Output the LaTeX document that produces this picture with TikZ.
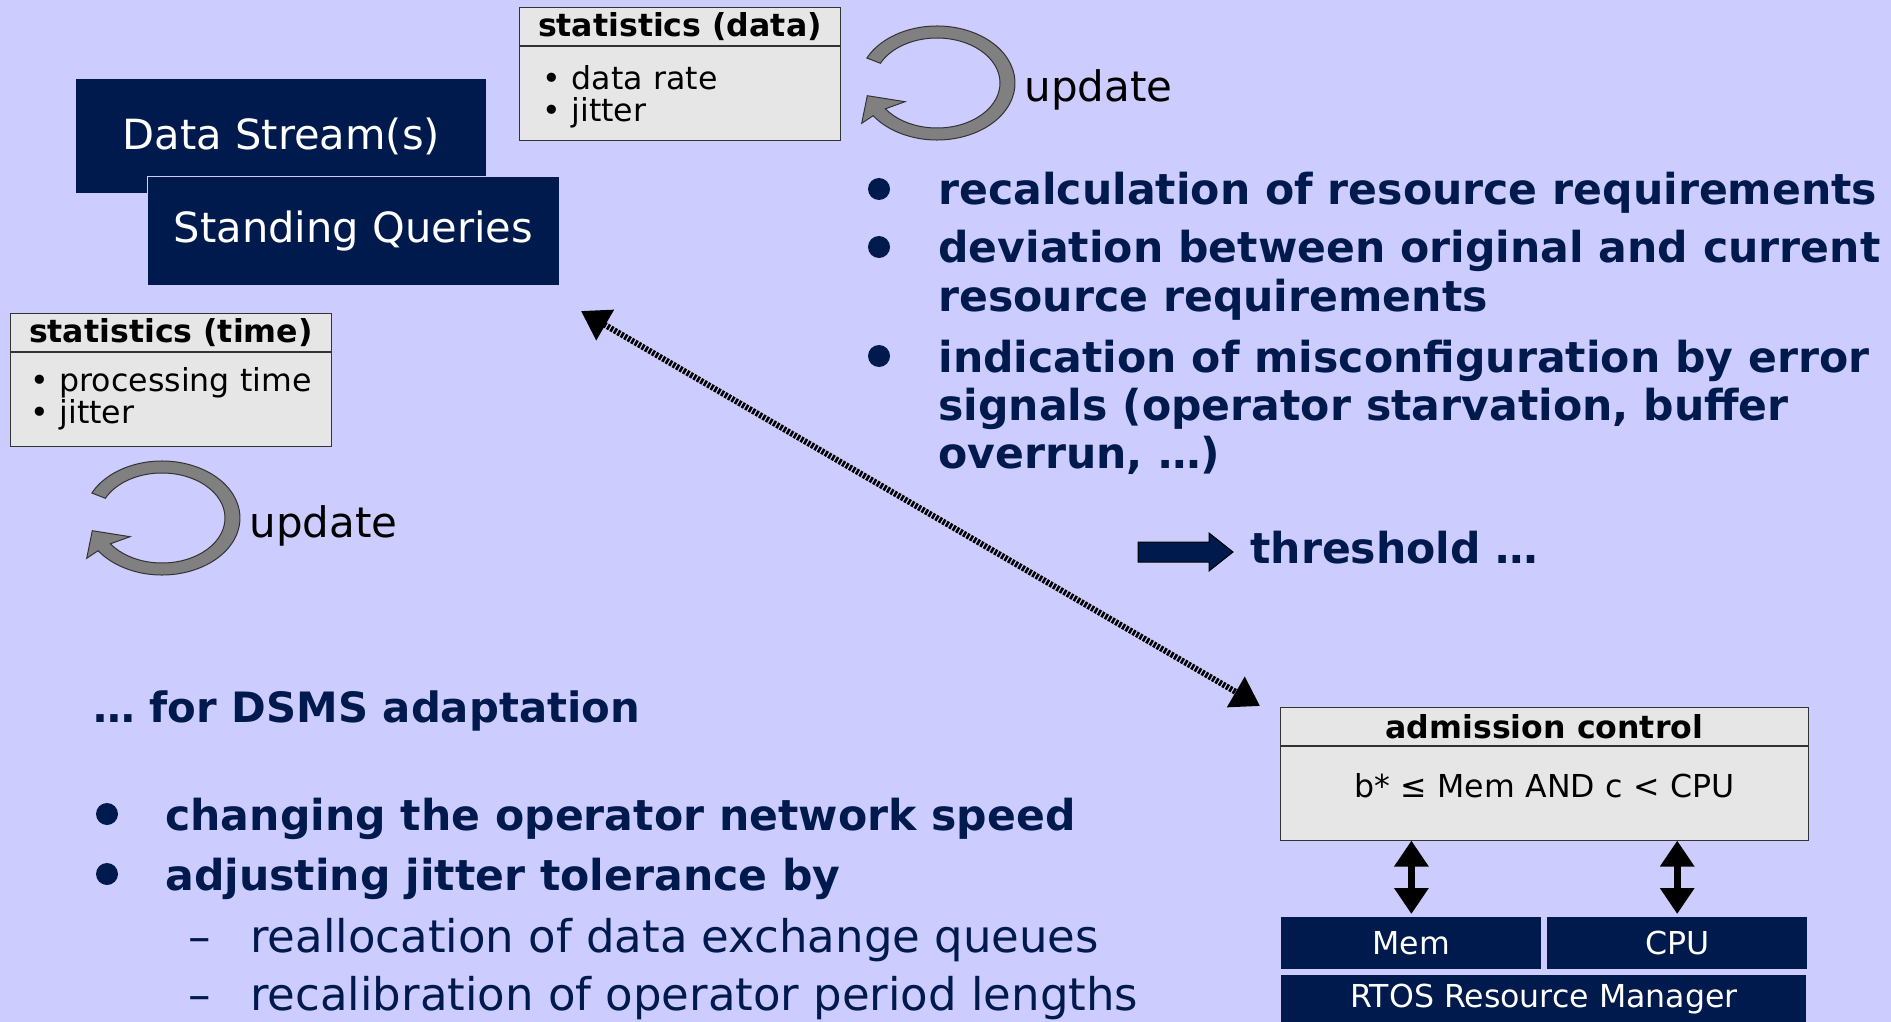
\documentclass[tikz,border=0pt]{standalone}
\usepackage{fontspec}
\setmainfont{DejaVu Sans}
\usetikzlibrary{arrows.meta, positioning}

\definecolor{slidebg}{HTML}{CCCCFF}
\definecolor{navy}{HTML}{001A4D}
\definecolor{panel}{HTML}{E6E6E6}
\definecolor{loopfill}{HTML}{808080}

\newcommand{\bigfont}{\fontsize{21.3}{24.2}\selectfont}
\newcommand{\subfont}{\fontsize{22.5}{24}\selectfont}
\newcommand{\smallfont}{\fontsize{15.8}{16}\selectfont}
\newcommand{\toplines}[1]{\begin{tabular}[t]{@{}l@{}}#1\end{tabular}}

\begin{document}
\begin{tikzpicture}[
    x=0.5pt, y=-0.5pt,
    navybox/.style={fill=navy, text=white, inner sep=0pt, font=\fontsize{20.8}{24}\selectfont},
    statshead/.style={draw=black!80, fill=panel, inner sep=0pt, minimum height=19pt, font=\smallfont\bfseries},
    statsbody/.style={draw=black!80, fill=panel, inner ysep=0pt, inner xsep=10pt, minimum height=47pt, text width=140.5pt, text height=16pt, align=left, font=\smallfont},
    resbox/.style={fill=navy, text=white, inner sep=0pt, minimum width=130pt, minimum height=26pt, font=\smallfont},
    listitem/.style={anchor=base west, inner sep=0pt, text=navy, font=\bigfont\bfseries},
    listsub/.style={anchor=base west, inner sep=0pt, text=navy, font=\subfont},
    bulletdot/.style={circle, fill=navy, inner sep=0pt, minimum size=11pt},
    dblarrow/.style={{Triangle[width=16.5pt,length=13pt]}-{Triangle[width=16.5pt,length=13pt]}, line width=3.5pt},
    dotarrow/.style={{Triangle[width=17pt,length=14pt]}-{Triangle[width=17pt,length=14pt]}, line width=3pt, dash pattern=on 1.3pt off 0.7pt},
    ring/.style={draw=black!80, fill=loopfill, line width=0.5pt}
]
    % slide background
    \fill[slidebg] (0,0) rectangle (1891,1022);
    \useasboundingbox (0,0) rectangle (1891,1022);

    % streams and queries
    \node[navybox, minimum width=205pt, minimum height=57pt, anchor=north west] (stream) at (76,79) {Data Stream(s)};
    \node[navybox, draw=slidebg, line width=0.5pt, minimum width=206pt, minimum height=54.5pt, anchor=north west] (queries) at (147,176) {Standing Queries};

    % statistics panels
    \node[statshead, minimum width=160.5pt, anchor=north west] (sdhead) at (519,7) {statistics (data)};
    \node[statsbody, inner xsep=11.5pt, text width=137.5pt, below=0pt of sdhead] (sdbody) {\mbox{• data rate}\\\mbox{• jitter}};
    \node[statshead, minimum width=160.5pt, anchor=north west] (sthead) at (10,313) {statistics (time)};
    \node[statsbody, text height=12pt, below=0pt of sthead] (stbody) {\mbox{• processing time}\\\mbox{• jitter}};

    % update loops
    \foreach \cx/\cy/\nm in {162/518/updtime, 937/83/upddata} {
        \draw[ring] ({\cx+78*cos(206)},{\cy+57*sin(206)}) arc[start angle=206, end angle=505, x radius=78, y radius=57]
            -- ({\cx-75.3},{\cy+40.3}) -- ({\cx-69.7},{\cy+12.7}) -- ({\cx-32},{\cy+18.7})
            -- ({\cx+63*cos(505)},{\cy+45*sin(505)}) arc[start angle=505, end angle=206, x radius=63, y radius=45] -- cycle;
        \node[anchor=base west, inner sep=0pt, font=\fontsize{21}{24}\selectfont] (\nm) at ({\cx+87},{\cy+19}) {update};
    }

    % requirements list
    \node[listitem] (req1) at (938,205) {recalculation of resource requirements};
    \node[listitem] (req2) at (938,263) {\toplines{deviation between original and current\\resource requirements}};
    \node[listitem] (req3) at (938,372) {\toplines{indication of misconfiguration by error\\signals (operator starvation, buffer\\overrun, …)}};
    \foreach \r in {req1, req2, req3}
        \node[bulletdot] (dot-\r) at ([shift={(-59,-16)}]\r.base west) {};

    % threshold
    \node[listitem] (thresh) at (1250,563) {threshold …};
    \draw[fill=navy, draw=black, line width=0.5pt] (1138,542) -- (1209,542) -- (1209,533) -- (1233,552)
        -- (1209,571) -- (1209,562) -- (1138,562) -- cycle;

    % adaptation list
    \node[listitem, font=\fontsize{20.9}{24}\selectfont\bfseries] (adapt) at (93,722) {… for DSMS adaptation};
    \node[listitem] (speed) at (165,830) {changing the operator network speed};
    \node[listitem] (jitter) at (165,890) {adjusting jitter tolerance by};
    \node[listsub] (queues) at (250,952) {reallocation of data exchange queues};
    \node[listsub] (period) at (250,1010) {recalibration of operator period lengths};
    \foreach \r in {speed, jitter}
        \node[bulletdot] (dot-\r) at ([shift={(-58,-16)}]\r.base west) {};
    \node[listsub, anchor=base] (ld1) at ([xshift=-25pt]queues.base west) {–};
    \node[listsub, anchor=base] (ld2) at ([xshift=-25pt]period.base west) {–};

    % admission control and resources
    \node[statshead, minimum width=264pt, anchor=north west] (achead) at (1280,707) {admission control};
    \node[statsbody, minimum width=264pt, text width=242pt, align=center, text height=12pt, text depth=8pt, below=0pt of achead] (acbody) {b* ≤ Mem AND c < CPU};
    \node[resbox, anchor=north west] (mem) at (1281,917) {Mem};
    \node[resbox, right=2.5pt of mem] (cpu) {CPU};
    \node[resbox, minimum width=262.5pt, minimum height=24pt, anchor=north west] (rtos) at ([yshift=-2.5pt]mem.south west) {RTOS Resource Manager};

    \draw[dblarrow] (mem.north |- acbody.south) -- ([yshift=1.5pt]mem.north);
    \draw[dblarrow] (cpu.north |- acbody.south) -- ([yshift=1.5pt]cpu.north);
    \draw[dotarrow] ([shift={(21,25)}]queries.south east) -- ([shift={(-20,-1)}]achead.north west);
\end{tikzpicture}
\end{document}
